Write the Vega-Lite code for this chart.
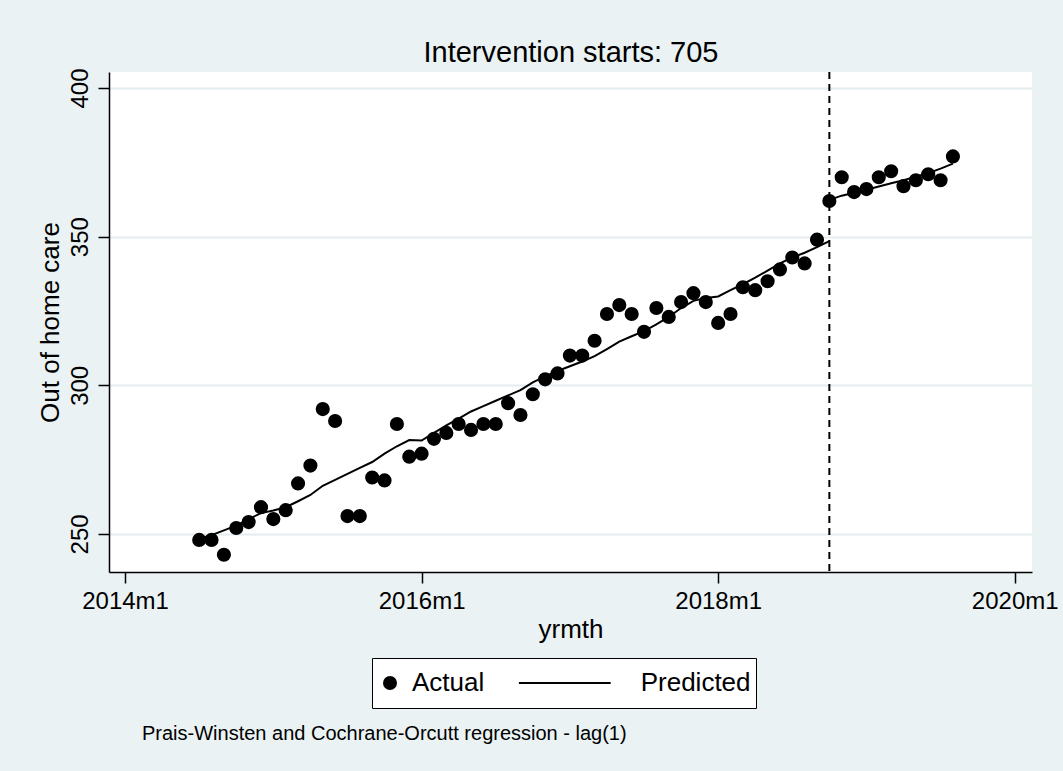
{
  "$schema": "https://vega.github.io/schema/vega-lite/v6.json",
  "width": 923,
  "height": 500,
  "autosize": {"type": "none"},
  "padding": {"left": 109, "top": 72, "right": 31, "bottom": 199},
  "background": "#EAF2F3",
  "config": {
    "font": "Liberation Sans",
    "view": {"fill": "white", "stroke": null},
    "axis": {
      "labelColor": "black", "titleColor": "black", "titleFontWeight": "normal",
      "labelFontSize": 24, "titleFontSize": 26,
      "domainColor": "black", "domainWidth": 1.5,
      "tickColor": "black", "tickWidth": 1.5, "tickSize": 11,
      "labelFlush": false, "labelOverlap": false,
      "gridColor": "#E3ECEF", "gridWidth": 2
    },
    "axisX": {"labelPadding": 6, "grid": false},
    "axisY": {
      "labelAngle": -90, "labelAlign": "center", "labelBaseline": "alphabetic", "labelPadding": 11,
      "grid": true, "titleAngle": -90, "titleX": -51, "titleY": 250,
      "titleAlign": "center", "titleBaseline": "alphabetic"
    }
  },
  "title": {
    "text": "Prais-Winsten and Cochrane-Orcutt regression - lag(1)",
    "orient": "bottom", "anchor": "start", "frame": "group",
    "dx": 33, "offset": 15, "fontSize": 20, "fontWeight": "normal", "color": "black"
  },
  "datasets": {
    "actual": [
      {"t": 654, "value": 248}, {"t": 655, "value": 248}, {"t": 656, "value": 243}, {"t": 657, "value": 252},
      {"t": 658, "value": 254}, {"t": 659, "value": 259}, {"t": 660, "value": 255}, {"t": 661, "value": 258},
      {"t": 662, "value": 267}, {"t": 663, "value": 273}, {"t": 664, "value": 292}, {"t": 665, "value": 288},
      {"t": 666, "value": 256}, {"t": 667, "value": 256}, {"t": 668, "value": 269}, {"t": 669, "value": 268},
      {"t": 670, "value": 287}, {"t": 671, "value": 276}, {"t": 672, "value": 277}, {"t": 673, "value": 282},
      {"t": 674, "value": 284}, {"t": 675, "value": 287}, {"t": 676, "value": 285}, {"t": 677, "value": 287},
      {"t": 678, "value": 287}, {"t": 679, "value": 294}, {"t": 680, "value": 290}, {"t": 681, "value": 297},
      {"t": 682, "value": 302}, {"t": 683, "value": 304}, {"t": 684, "value": 310}, {"t": 685, "value": 310},
      {"t": 686, "value": 315}, {"t": 687, "value": 324}, {"t": 688, "value": 327}, {"t": 689, "value": 324},
      {"t": 690, "value": 318}, {"t": 691, "value": 326}, {"t": 692, "value": 323}, {"t": 693, "value": 328},
      {"t": 694, "value": 331}, {"t": 695, "value": 328}, {"t": 696, "value": 321}, {"t": 697, "value": 324},
      {"t": 698, "value": 333}, {"t": 699, "value": 332}, {"t": 700, "value": 335}, {"t": 701, "value": 339},
      {"t": 702, "value": 343}, {"t": 703, "value": 341}, {"t": 704, "value": 349}, {"t": 705, "value": 362},
      {"t": 706, "value": 370}, {"t": 707, "value": 365}, {"t": 708, "value": 366}, {"t": 709, "value": 370},
      {"t": 710, "value": 372}, {"t": 711, "value": 367}, {"t": 712, "value": 369}, {"t": 713, "value": 371},
      {"t": 714, "value": 369}, {"t": 715, "value": 377}
    ],
    "predicted": [
      {"t": 654, "value": 248.4, "seg": "pre"}, {"t": 655, "value": 249.6, "seg": "pre"},
      {"t": 656, "value": 251.2, "seg": "pre"}, {"t": 657, "value": 252.8, "seg": "pre"},
      {"t": 658, "value": 255.0, "seg": "pre"}, {"t": 659, "value": 257.0, "seg": "pre"},
      {"t": 660, "value": 257.9, "seg": "pre"}, {"t": 661, "value": 259.0, "seg": "pre"},
      {"t": 662, "value": 261.0, "seg": "pre"}, {"t": 663, "value": 263.1, "seg": "pre"},
      {"t": 664, "value": 266.2, "seg": "pre"}, {"t": 665, "value": 268.2, "seg": "pre"},
      {"t": 666, "value": 270.2, "seg": "pre"}, {"t": 667, "value": 272.2, "seg": "pre"},
      {"t": 668, "value": 274.2, "seg": "pre"}, {"t": 669, "value": 277.0, "seg": "pre"},
      {"t": 670, "value": 279.5, "seg": "pre"}, {"t": 671, "value": 281.6, "seg": "pre"},
      {"t": 672, "value": 281.4, "seg": "pre"}, {"t": 673, "value": 284.0, "seg": "pre"},
      {"t": 674, "value": 286.5, "seg": "pre"}, {"t": 675, "value": 288.8, "seg": "pre"},
      {"t": 676, "value": 291.2, "seg": "pre"}, {"t": 677, "value": 293.0, "seg": "pre"},
      {"t": 678, "value": 294.8, "seg": "pre"}, {"t": 679, "value": 296.6, "seg": "pre"},
      {"t": 680, "value": 298.4, "seg": "pre"}, {"t": 681, "value": 301.0, "seg": "pre"},
      {"t": 682, "value": 303.0, "seg": "pre"}, {"t": 683, "value": 304.8, "seg": "pre"},
      {"t": 684, "value": 306.4, "seg": "pre"}, {"t": 685, "value": 308.0, "seg": "pre"},
      {"t": 686, "value": 309.8, "seg": "pre"}, {"t": 687, "value": 312.2, "seg": "pre"},
      {"t": 688, "value": 314.7, "seg": "pre"}, {"t": 689, "value": 316.5, "seg": "pre"},
      {"t": 690, "value": 318.2, "seg": "pre"}, {"t": 691, "value": 320.5, "seg": "pre"},
      {"t": 692, "value": 323.0, "seg": "pre"}, {"t": 693, "value": 326.0, "seg": "pre"},
      {"t": 694, "value": 328.4, "seg": "pre"}, {"t": 695, "value": 329.4, "seg": "pre"},
      {"t": 696, "value": 329.9, "seg": "pre"}, {"t": 697, "value": 332.0, "seg": "pre"},
      {"t": 698, "value": 334.0, "seg": "pre"}, {"t": 699, "value": 336.2, "seg": "pre"},
      {"t": 700, "value": 338.6, "seg": "pre"}, {"t": 701, "value": 341.0, "seg": "pre"},
      {"t": 702, "value": 343.0, "seg": "pre"}, {"t": 703, "value": 344.6, "seg": "pre"},
      {"t": 704, "value": 346.5, "seg": "pre"}, {"t": 705, "value": 348.5, "seg": "pre"},
      {"t": 705, "value": 362.4, "seg": "post"}, {"t": 706, "value": 363.8, "seg": "post"},
      {"t": 707, "value": 364.8, "seg": "post"}, {"t": 708, "value": 365.8, "seg": "post"},
      {"t": 709, "value": 366.9, "seg": "post"}, {"t": 710, "value": 368.0, "seg": "post"},
      {"t": 711, "value": 369.0, "seg": "post"}, {"t": 712, "value": 370.2, "seg": "post"},
      {"t": 713, "value": 371.4, "seg": "post"}, {"t": 714, "value": 372.9, "seg": "post"},
      {"t": 715, "value": 374.6, "seg": "post"}
    ],
    "intervention": [{"start": 705}]
  },
  "layer": [
    {
      "data": {"name": "actual"},
      "mark": {"type": "point", "shape": "circle", "filled": true, "color": "black", "opacity": 1, "size": 200},
      "encoding": {
        "x": {
          "field": "t", "type": "quantitative",
          "scale": {"domain": [646.7, 721.4], "nice": false, "zero": false},
          "axis": {
            "title": "yrmth", "values": [648, 672, 696, 720],
            "labelExpr": "(floor(datum.value / 12) + 1960) + 'm' + (datum.value % 12 + 1)",
            "titleX": 461.5, "titleY": 65, "titleAlign": "center", "titleBaseline": "alphabetic"
          }
        },
        "y": {
          "field": "value", "type": "quantitative",
          "scale": {"domain": [237.2, 405.4], "nice": false, "zero": false},
          "axis": {"title": "Out of home care", "values": [250, 300, 350, 400]}
        }
      }
    },
    {
      "data": {"name": "predicted"},
      "mark": {"type": "line", "color": "black", "strokeWidth": 2},
      "encoding": {
        "x": {
          "field": "t", "type": "quantitative",
          "scale": {"domain": [646.7, 721.4], "nice": false, "zero": false},
          "axis": null
        },
        "y": {
          "field": "value", "type": "quantitative",
          "scale": {"domain": [237.2, 405.4], "nice": false, "zero": false},
          "title": "Out of home care"
        },
        "detail": {"field": "seg", "type": "nominal"}
      }
    },
    {
      "data": {"name": "intervention"},
      "mark": {"type": "rule", "color": "black", "strokeWidth": 2, "strokeDash": [7, 5]},
      "encoding": {
        "x": {
          "field": "start", "type": "quantitative",
          "scale": {"domain": [646.7, 721.4], "nice": false, "zero": false},
          "axis": {
            "orient": "top", "title": "Intervention starts: 705",
            "labels": false, "ticks": false, "domain": false, "grid": false,
            "titleFontSize": 29, "titleX": 461.5, "titleY": -11,
            "titleAlign": "center", "titleBaseline": "alphabetic"
          }
        }
      }
    },
    {
      "data": {"name": "intervention"},
      "mark": {"type": "point", "opacity": 0, "filled": true, "color": "black"},
      "encoding": {
        "x": {
          "field": "start", "type": "quantitative",
          "scale": {"domain": [646.7, 721.4], "nice": false, "zero": false},
          "axis": null
        },
        "shape": {
          "datum": "Actual", "type": "nominal",
          "scale": {
            "domain": ["Actual", "Predicted"],
            "range": ["circle", "M-1,-0.0177L0.628,-0.0177L0.628,0.0177L-1,0.0177Z"]
          },
          "legend": {
            "title": null, "orient": "none", "legendX": 263, "legendY": 586,
            "direction": "horizontal", "padding": 5,
            "strokeColor": "black", "fillColor": "white",
            "labelFontSize": 26, "labelColor": "black",
            "labelOffset": 9, "symbolOffset": 0, "columnPadding": 33.7, "clipHeight": 40,
            "symbolOpacity": 1, "symbolStrokeWidth": 0, "symbolFillColor": "black"
          }
        },
        "size": {
          "datum": "Actual", "type": "nominal",
          "scale": {"type": "point", "domain": ["Actual", "Predicted"], "range": [196, 12769], "padding": 0},
          "legend": {
            "title": null, "orient": "none", "legendX": 263, "legendY": 586,
            "direction": "horizontal", "padding": 5,
            "strokeColor": "black", "fillColor": "white",
            "labelFontSize": 26, "labelColor": "black",
            "labelOffset": 9, "symbolOffset": 0, "columnPadding": 33.7, "clipHeight": 40,
            "symbolOpacity": 1, "symbolStrokeWidth": 0, "symbolFillColor": "black"
          }
        }
      }
    }
  ],
  "resolve": {"axis": {"x": "independent"}}
}
